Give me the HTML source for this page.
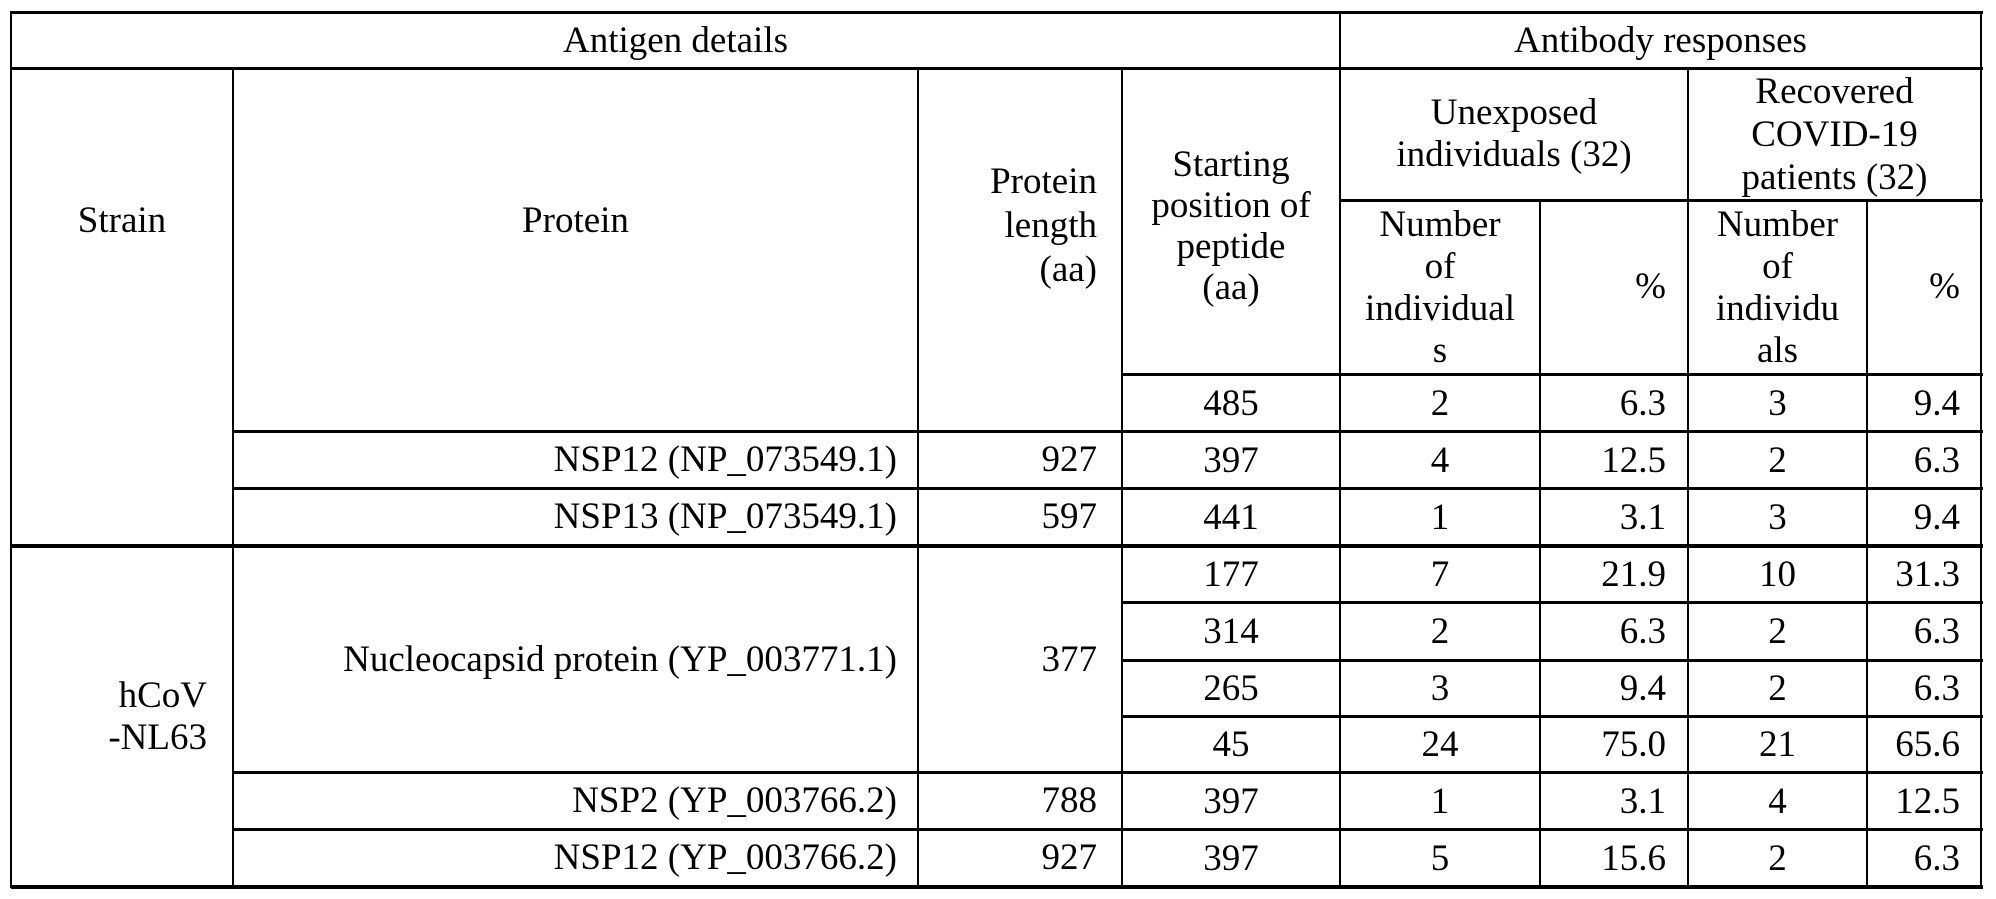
<!DOCTYPE html>
<html><head><meta charset="utf-8">
<style>
html,body{margin:0;padding:0;background:#fff;}
body{width:1996px;height:899px;position:relative;overflow:hidden;font-family:"Liberation Serif","Times New Roman",serif;font-size:37px;color:#000;}
.h{position:absolute;height:3px;background:#000;}
.v{position:absolute;width:2px;background:#000;}
.c{position:absolute;display:flex;align-items:center;justify-content:center;text-align:center;line-height:42px;white-space:nowrap;}
.r{justify-content:flex-end;text-align:right;}
</style></head><body>
<!-- horizontal lines -->
<div class="h" style="left:11px;width:1972px;top:11px"></div>
<div class="h" style="left:11px;width:1972px;top:67px"></div>
<div class="h" style="left:1340px;width:643px;top:199px"></div>
<div class="h" style="left:1122px;width:861px;top:373px"></div>
<div class="h" style="left:233px;width:1750px;top:430px"></div>
<div class="h" style="left:233px;width:1750px;top:487px"></div>
<div class="h" style="left:11px;width:1972px;top:544px;height:4px"></div>
<div class="h" style="left:1122px;width:861px;top:601px"></div>
<div class="h" style="left:1122px;width:861px;top:659px"></div>
<div class="h" style="left:1122px;width:861px;top:715px"></div>
<div class="h" style="left:233px;width:1750px;top:771px"></div>
<div class="h" style="left:233px;width:1750px;top:828px"></div>
<div class="h" style="left:11px;width:1972px;top:885px;height:4px"></div>
<!-- vertical lines -->
<div class="v" style="left:10px;top:11px;height:877px"></div>
<div class="v" style="left:232px;top:67px;height:821px"></div>
<div class="v" style="left:917px;top:67px;height:821px"></div>
<div class="v" style="left:1121px;top:67px;height:821px"></div>
<div class="v" style="left:1339px;top:11px;height:877px"></div>
<div class="v" style="left:1539px;top:199px;height:689px"></div>
<div class="v" style="left:1687px;top:67px;height:821px"></div>
<div class="v" style="left:1866px;top:199px;height:689px"></div>
<div class="v" style="left:1980px;top:11px;height:877px"></div>

<!-- headers -->
<div class="c" style="left:11px;width:1329px;top:13px;height:55px">Antigen details</div>
<div class="c" style="left:1340px;width:641px;top:13px;height:55px">Antibody responses</div>
<div class="c" style="left:11px;width:222px;top:68px;height:306px">Strain</div>
<div class="c" style="left:233px;width:685px;top:68px;height:306px">Protein</div>
<div class="c r" style="left:918px;width:179px;top:68px;height:316px;line-height:44px">Protein<br>length<br>(aa)</div>
<div class="c" style="left:1122px;width:218px;top:68px;height:316px;line-height:41px">Starting<br>position of<br>peptide<br>(aa)</div>
<div class="c" style="left:1340px;width:348px;top:68px;height:132px">Unexposed<br>individuals (32)</div>
<div class="c" style="left:1688px;width:293px;top:68px;height:132px;line-height:43px">Recovered<br>COVID-19<br>patients (32)</div>
<div class="c" style="left:1340px;width:200px;top:200px;height:176px">Number<br>of<br>individual<br>s</div>
<div class="c r" style="left:1540px;width:126px;top:200px;height:174px">%</div>
<div class="c" style="left:1688px;width:179px;top:200px;height:176px">Number<br>of<br>individu<br>als</div>
<div class="c r" style="left:1867px;width:93px;top:200px;height:174px">%</div>

<!-- strain / proteins -->
<div class="c r" style="left:11px;width:196px;top:548px;height:338px">hCoV<br>-NL63</div>
<div class="c r" style="left:233px;width:664px;top:431px;height:57px">NSP12 (NP_073549.1)</div>
<div class="c r" style="left:918px;width:179px;top:431px;height:57px">927</div>
<div class="c r" style="left:233px;width:664px;top:488px;height:57px">NSP13 (NP_073549.1)</div>
<div class="c r" style="left:918px;width:179px;top:488px;height:57px">597</div>
<div class="c r" style="left:233px;width:664px;top:548px;height:224px">Nucleocapsid protein (YP_003771.1)</div>
<div class="c r" style="left:918px;width:179px;top:548px;height:224px">377</div>
<div class="c r" style="left:233px;width:664px;top:772px;height:57px">NSP2 (YP_003766.2)</div>
<div class="c r" style="left:918px;width:179px;top:772px;height:57px">788</div>
<div class="c r" style="left:233px;width:664px;top:829px;height:57px">NSP12 (YP_003766.2)</div>
<div class="c r" style="left:918px;width:179px;top:829px;height:57px">927</div>

<!-- data rows -->
<div class="c" style="left:1122px;width:218px;top:375px;height:57px">485</div>
<div class="c" style="left:1340px;width:200px;top:375px;height:57px">2</div>
<div class="c r" style="left:1540px;width:126px;top:375px;height:57px">6.3</div>
<div class="c" style="left:1688px;width:179px;top:375px;height:57px">3</div>
<div class="c r" style="left:1867px;width:93px;top:375px;height:57px">9.4</div>

<div class="c" style="left:1122px;width:218px;top:432px;height:57px">397</div>
<div class="c" style="left:1340px;width:200px;top:432px;height:57px">4</div>
<div class="c r" style="left:1540px;width:126px;top:432px;height:57px">12.5</div>
<div class="c" style="left:1688px;width:179px;top:432px;height:57px">2</div>
<div class="c r" style="left:1867px;width:93px;top:432px;height:57px">6.3</div>

<div class="c" style="left:1122px;width:218px;top:489px;height:57px">441</div>
<div class="c" style="left:1340px;width:200px;top:489px;height:57px">1</div>
<div class="c r" style="left:1540px;width:126px;top:489px;height:57px">3.1</div>
<div class="c" style="left:1688px;width:179px;top:489px;height:57px">3</div>
<div class="c r" style="left:1867px;width:93px;top:489px;height:57px">9.4</div>

<div class="c" style="left:1122px;width:218px;top:547px;height:56px">177</div>
<div class="c" style="left:1340px;width:200px;top:547px;height:56px">7</div>
<div class="c r" style="left:1540px;width:126px;top:547px;height:56px">21.9</div>
<div class="c" style="left:1688px;width:179px;top:547px;height:56px">10</div>
<div class="c r" style="left:1867px;width:93px;top:547px;height:56px">31.3</div>

<div class="c" style="left:1122px;width:218px;top:603px;height:57px">314</div>
<div class="c" style="left:1340px;width:200px;top:603px;height:57px">2</div>
<div class="c r" style="left:1540px;width:126px;top:603px;height:57px">6.3</div>
<div class="c" style="left:1688px;width:179px;top:603px;height:57px">2</div>
<div class="c r" style="left:1867px;width:93px;top:603px;height:57px">6.3</div>

<div class="c" style="left:1122px;width:218px;top:661px;height:56px">265</div>
<div class="c" style="left:1340px;width:200px;top:661px;height:56px">3</div>
<div class="c r" style="left:1540px;width:126px;top:661px;height:56px">9.4</div>
<div class="c" style="left:1688px;width:179px;top:661px;height:56px">2</div>
<div class="c r" style="left:1867px;width:93px;top:661px;height:56px">6.3</div>

<div class="c" style="left:1122px;width:218px;top:717px;height:56px">45</div>
<div class="c" style="left:1340px;width:200px;top:717px;height:56px">24</div>
<div class="c r" style="left:1540px;width:126px;top:717px;height:56px">75.0</div>
<div class="c" style="left:1688px;width:179px;top:717px;height:56px">21</div>
<div class="c r" style="left:1867px;width:93px;top:717px;height:56px">65.6</div>

<div class="c" style="left:1122px;width:218px;top:773px;height:57px">397</div>
<div class="c" style="left:1340px;width:200px;top:773px;height:57px">1</div>
<div class="c r" style="left:1540px;width:126px;top:773px;height:57px">3.1</div>
<div class="c" style="left:1688px;width:179px;top:773px;height:57px">4</div>
<div class="c r" style="left:1867px;width:93px;top:773px;height:57px">12.5</div>

<div class="c" style="left:1122px;width:218px;top:830px;height:57px">397</div>
<div class="c" style="left:1340px;width:200px;top:830px;height:57px">5</div>
<div class="c r" style="left:1540px;width:126px;top:830px;height:57px">15.6</div>
<div class="c" style="left:1688px;width:179px;top:830px;height:57px">2</div>
<div class="c r" style="left:1867px;width:93px;top:830px;height:57px">6.3</div>
</body></html>
